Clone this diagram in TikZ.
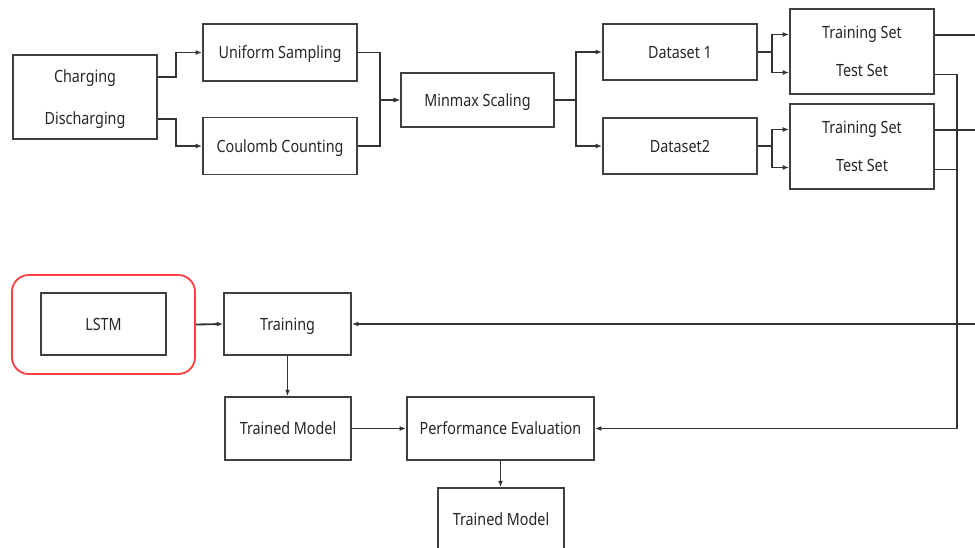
\documentclass[tikz,border=0pt]{standalone}
\usepackage{fontspec}
\setmainfont{Noto Sans}[FakeStretch=0.85]
\usetikzlibrary{arrows.meta,calc}

\begin{document}
\begin{tikzpicture}[x=0.025cm, y=-0.025cm, line width=1.3pt,
  box/.style={draw=black!75, line width=1.3pt, rectangle, inner sep=0pt, align=center,
    text=black!85, text depth=0pt, font=\fontsize{12}{14}\selectfont},
  arr/.style={draw=black!80, line width=1.3pt, -{Latex[length=4.5pt,width=3.5pt]}},
  wire/.style={draw=black!80, line width=1.3pt}]
  \useasboundingbox (0,0) rectangle (975,547);

  % preprocessing
  \node[box, minimum width=3.6cm, minimum height=2.1cm] (cd) at (85,97) {Charging\\[16pt]Discharging};
  \node[box, minimum width=3.85cm, minimum height=1.425cm] (us) at (280,52.5) {Uniform Sampling};
  \node[box, minimum width=3.85cm, minimum height=1.425cm] (cc) at (280,146) {Coulomb Counting};
  \node[box, minimum width=3.825cm, minimum height=1.35cm] (mm) at (477.5,100) {Minmax Scaling};

  % datasets
  \node[box, minimum width=3.85cm, minimum height=1.4cm] (d1) at (680,52) {Dataset 1};
  \node[box, minimum width=3.85cm, minimum height=1.4cm] (d2) at (680,146) {Dataset2};
  \node[box, minimum width=3.6cm, minimum height=2.125cm] (ts1) at (862,51.5) {Training Set\\[13pt]Test Set};
  \node[box, minimum width=3.6cm, minimum height=2.125cm] (ts2) at (862,146.5) {Training Set\\[13pt]Test Set};

  % model
  \node[draw=red!75, line width=1.3pt, rounded corners=0.42cm, minimum width=4.575cm, minimum height=2.475cm] (grp) at (103.5,324.5) {};
  \node[box, minimum width=3.125cm, minimum height=1.55cm] (lstm) at (103.5,324) {LSTM};
  \node[box, minimum width=3.175cm, minimum height=1.55cm] (tr) at (287.5,324) {Training};
  \node[box, minimum width=3.15cm, minimum height=1.575cm] (tm1) at (288,428.5) {Trained Model};
  \node[box, minimum width=4.675cm, minimum height=1.575cm] (pe) at (500.5,428.5) {Performance Evaluation};
  \node[box, minimum width=3.15cm, minimum height=1.575cm] (tm2) at (501,519.5) {Trained Model};

  \coordinate (out1) at (975,35);
  \coordinate (out2) at (975,130);
  \coordinate (in) at (975,324);
  \coordinate (bus) at (957,428.5);

  % top row
  \draw[arr] ($(cd.east)+(0,-20)$) -- ++(18,0) |- (us.west);
  \draw[arr] ($(cd.east)+(0,22)$) -- ++(18,0) |- (cc.west);
  \draw[arr] (us.east) -- ++(22,0) |- (mm.west);
  \draw[arr] (cc.east) -- ++(22,0) |- (mm.west);
  \draw[arr] (mm.east) -- ++(21,0) |- (d1.west);
  \draw[arr] (mm.east) -- ++(21,0) |- (d2.west);
  \draw[arr] (d1.east) -- ++(14,0) |- ($(ts1.west)+(0,-17)$);
  \draw[arr] (d1.east) -- ++(14,0) |- ($(ts1.west)+(0,21)$);
  \draw[arr] (d2.east) -- ++(14,0) |- ($(ts2.west)+(0,-17)$);
  \draw[arr] (d2.east) -- ++(14,0) |- ($(ts2.west)+(0,21)$);

  % right side
  \draw[wire] (ts1.east |- out1) -- (out1);
  \draw[wire] (ts2.east |- out2) -- (out2);
  \draw[arr] ($(ts1.east)+(0,23)$) -| (bus) -- (pe.east);
  \draw[wire] ($(ts2.east)+(0,23)$) -| (bus);
  \draw[arr] (in) -- (tr.east);

  % bottom
  \draw[arr] (grp.east) -- (tr.west);
  \draw[arr] (tr.south) -- (tr.south |- tm1.north);
  \draw[arr] (tm1.east) -- (pe.west);
  \draw[arr] (pe.south) -- (pe.south |- tm2.north);
\end{tikzpicture}
\end{document}
